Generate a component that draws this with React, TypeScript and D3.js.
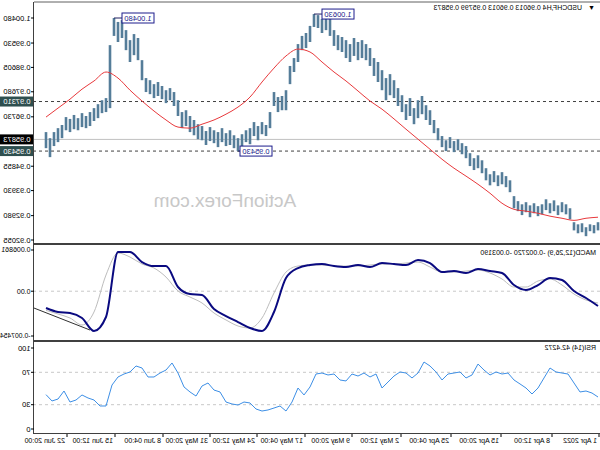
import React from 'react'
import * as d3 from 'd3'

// USDCHF H4 bars (sampled), high / low
const barHigh = [
  0.9273, 0.9262, 0.9265, 0.9254, 0.9269, 0.9265, 0.9273,
  0.9326, 0.9341, 0.9349, 0.9337, 0.9356, 0.9345, 0.936, 0.9341,
  0.9334, 0.9345, 0.9337, 0.9349, 0.9341, 0.9353, 0.9372,
  0.9432, 0.9448, 0.9463, 0.9451, 0.9467, 0.9455, 0.9478,
  0.9508, 0.9527, 0.9516, 0.9535,
  0.9562, 0.9573,
  0.9588, 0.9581, 0.9596, 0.9584, 0.96,
  0.963, 0.9661,
  0.9698, 0.9717, 0.9752, 0.9736, 0.9706, 0.9744, 0.9721, 0.9755,
  0.9782, 0.9812, 0.9835, 0.982,
  0.985, 0.9881, 0.9896,
  0.9934, 0.9949, 0.9964,
  0.9957, 0.9972, 0.9949, 0.9964, 0.9976,
  0.9983, 1.0002,
  1.0048, 1.0056, 1.0044, 1.0059, 1.0063,
  1.0018,
  0.9991, 0.998,
  0.9949, 0.9896,
  0.9866, 0.9774,
  0.9752, 0.9748, 0.9767,
  0.9691,
  0.9642, 0.9653,
  0.9638, 0.9653, 0.963, 0.9622, 0.9607, 0.9592,
  0.9603, 0.9622, 0.9611, 0.963, 0.9615, 0.9622, 0.9634, 0.9619, 0.9638, 0.9645, 0.9661,
  0.9676, 0.9698, 0.9691,
  0.9736,
  0.9767, 0.9782, 0.9774, 0.979,
  0.9805, 0.9797, 0.9812, 0.982,
  0.9888,
  0.9972,
  0.9987, 0.9964, 1.0002,
  1.004,
  1.0033, 1.0048,
  0.9945,
  0.9744,
  0.9736,
  0.9721, 0.9706,
  0.9691, 0.9676, 0.9687, 0.9668, 0.968,
  0.9665, 0.9672,
  0.9642, 0.963, 0.9615,
  0.9592, 0.9615,
]
const barLow = [
  0.9242, 0.9231, 0.9239, 0.922, 0.9235, 0.9231, 0.9242,
  0.9284, 0.9303, 0.9311, 0.93, 0.9315, 0.9307, 0.9319, 0.9303,
  0.9296, 0.9307, 0.9292, 0.9311, 0.93, 0.9315, 0.9326,
  0.9387, 0.9406, 0.9417, 0.941, 0.9425, 0.9413, 0.9432,
  0.9459, 0.9478, 0.9471, 0.9486,
  0.9516, 0.9531,
  0.9546, 0.9539, 0.9554, 0.9543, 0.9558,
  0.9584, 0.9611,
  0.9642, 0.9661, 0.9683, 0.9668, 0.9645, 0.9676, 0.9661, 0.9691,
  0.9714, 0.9744, 0.9755, 0.9736,
  0.9774, 0.9805, 0.9828,
  0.9866, 0.9888, 0.9896,
  0.9888, 0.9904, 0.9881, 0.9896, 0.9919,
  0.9926, 0.9942,
  0.998, 1.0002, 0.9991, 1.001, 1.0014,
  0.9957,
  0.9934, 0.9926,
  0.9881, 0.9843,
  0.9797, 0.9698,
  0.9698, 0.9691, 0.9714,
  0.963,
  0.96, 0.9607,
  0.9584, 0.96, 0.9569, 0.9577, 0.9558, 0.9543,
  0.9554, 0.9566, 0.9562, 0.9577, 0.9558, 0.9573, 0.9581, 0.9566, 0.9584, 0.9588, 0.9603,
  0.9615, 0.9638, 0.963,
  0.9676,
  0.9714, 0.9736, 0.9725, 0.974,
  0.9752, 0.9744, 0.9759, 0.9767,
  0.9812,
  0.9888,
  0.9907, 0.9881, 0.9926,
  0.9972,
  0.9957, 0.998,
  0.9706,
  0.9691,
  0.9687,
  0.9668, 0.9657,
  0.9638, 0.963, 0.9634, 0.9622, 0.9626,
  0.9615, 0.9622,
  0.9592, 0.9577, 0.9562,
  0.952, 0.9554,
]

// moving average, one value every 3rd bar
const maValues = [
  0.9292, 0.9288, 0.928, 0.9288, 0.9296, 0.9307, 0.9315, 0.9322, 0.9345, 0.9383,
  0.9417, 0.9448, 0.9478, 0.9512, 0.955, 0.9588, 0.9626, 0.9665, 0.9702, 0.9733,
  0.9771, 0.9809, 0.9843, 0.9881, 0.9919, 0.993, 0.9904, 0.9858, 0.9805, 0.9748,
  0.971, 0.9683, 0.9661, 0.9645, 0.963, 0.9634, 0.9661, 0.9695, 0.9733, 0.9774,
  0.982, 0.9843, 0.9809, 0.9778, 0.974, 0.9706, 0.9672,
]

// MACD(12,26,9), one value every 3rd bar
const macdMain = [
  -0.00246, -0.00113, 0.00003, 0.00186, 0.0022, 0.00103, 0.0002, 0.00103, 0.00303, 0.00336,
  0.00369, 0.00303, 0.00336, 0.00319, 0.00469, 0.00519, 0.00436, 0.00453, 0.00469, 0.00403,
  0.00436, 0.00403, 0.00419, 0.00453, 0.00436, 0.00386, 0.0022, -0.00346, -0.00662, -0.00612,
  -0.00513, -0.00413, -0.00296, -0.00063, -0.00047, 0.0007, 0.00419, 0.00419, 0.00486, 0.00652,
  0.00652, -0.00429, -0.00662, -0.00446, -0.00363, -0.00346, -0.0028,
]
const macdSignal = [
  -0.00196, -0.00146, -0.00047, 0.00103, 0.00203, 0.0017, 0.0007, 0.0007, 0.00203, 0.00303,
  0.00353, 0.00336, 0.00319, 0.00319, 0.00403, 0.00486, 0.00469, 0.00453, 0.00453, 0.00436,
  0.00419, 0.00419, 0.00419, 0.00436, 0.00436, 0.00419, 0.00319, -0.0003, -0.00446, -0.00612,
  -0.00579, -0.00479, -0.00363, -0.00196, -0.00097, 0.00003, 0.00236, 0.00386, 0.00453, 0.00569,
  0.00636, 0.0027, -0.00346, -0.00562, -0.00446, -0.00379, -0.00319,
]
// trend line drawn on the MACD window: [bar, value]
const macdTrend = [[127, -0.00646], [141, -0.0028]]

// RSI(14), one value every 1.5 bars
const rsiValues = [
  39.5, 44.4, 46.9, 45.7, 56.8, 67.9, 69.1, 70.4, 75.3, 63.0,
  50.6, 43.2, 50.6, 55.6, 60.5, 69.1, 67.9, 70.4, 66.7, 72.8,
  80.2, 66.7, 63.0, 70.4, 69.1, 67.9, 60.5, 70.4, 77.8, 82.7,
  69.1, 63.0, 69.1, 70.4, 65.4, 58.0, 50.6, 67.9, 64.2, 69.1,
  65.4, 67.9, 59.3, 60.5, 67.9, 66.7, 69.1, 67.9, 51.9, 42.0,
  50.6, 33.3, 22.2, 28.4, 25.9, 23.5, 22.2, 24.7, 32.1, 33.3,
  29.6, 30.9, 33.3, 45.7, 48.1, 56.8, 53.1, 40.7, 45.7, 51.9,
  69.1, 81.5, 72.8, 69.1, 64.2, 64.2, 75.3, 77.8, 70.4, 67.9,
  64.2, 54.3, 28.4, 28.4, 35.8, 38.3, 42.0, 35.8, 33.3, 46.9,
  37.0, 34.6, 42.4,
]

const priceTicks = [1.0048, 0.9953, 0.98605, 0.9768, 0.9673, 0.94855, 0.9393, 0.9298, 0.92055]
const levelLines = [0.9731, 0.9543]
const lastPrice = 0.95873
const peakLabels = [
  { bar: 71, value: 1.0063, text: '1.00630', gap: 8 },
  { bar: 121, value: 1.0048, text: '1.00480', gap: 8 },
  { bar: 90, value: 0.9543, text: '0.95430', gap: 2 },
]
const timeLabels = [
  '1 Apr 2022', '8 Apr 12:00', '15 Apr 20:00', '25 Apr 04:00', '2 May 12:00', '9 May 20:00',
  '17 May 04:00', '24 May 12:00', '31 May 20:00', '8 Jun 04:00', '15 Jun 12:00', '22 Jun 20:00',
]
const timeBars = [-0.25, 11.5, 24.25, 36.75, 49.25, 61.5, 73.25, 85.25, 97, 108.75, 120.75, 132.75]

const AX = 566
const FONT = '"Liberation Sans", Arial, sans-serif'

export default function App() {
  const x = d3.scaleLinear().domain([0, 138]).range([2, 554])
  const yP = d3.scaleLinear().domain([0.92055, 1.0048]).range([240, 18])
  const yM = d3.scaleLinear().domain([-0.007454, 0.006861]).range([336, 250])
  const yR = d3.scaleLinear().domain([0, 100]).range([429, 348])

  const maLine = d3.line<number>().x((_, i) => x(i * 3)).y(d => yP(d)).curve(d3.curveMonotoneX)
  const macdLine = d3.line<number>().x((_, i) => x(i * 3)).y(d => yM(d)).curve(d3.curveMonotoneX)
  const rsiLine = d3.line<number>().x((_, i) => x(i * 1.5)).y(d => yR(d))

  const axisLabel = (y: number, t: string, key: string | number, size = 7.5) => (
    <g key={key}>
      <line x1={AX} x2={AX + 3} y1={y} y2={y} stroke="#000" />
      <text x={AX + 3.5} y={y} dy="0.35em" fontSize={size} fill="#000">{t}</text>
    </g>
  )
  const axisBox = (y: number, t: string, fill: string) => (
    <g>
      <rect x={AX + 1} y={y - 5} width={33} height={10} fill={fill} />
      <text x={AX + 3.5} y={y} dy="0.35em" fontSize={7.5} fill="#fff">{t}</text>
    </g>
  )

  return (
    <div style={{ position: 'absolute', left: 0, top: 0 }}>
      <svg width={600} height={450} style={{ display: 'block', background: '#fff' }} fontFamily={FONT}>
        <defs>
          <clipPath id="cMain"><rect x={0} y={2} width={AX} height={241} /></clipPath>
          <clipPath id="cMacd"><rect x={0} y={246} width={AX} height={93} /></clipPath>
          <clipPath id="cRsi"><rect x={0} y={343} width={AX} height={90} /></clipPath>
        </defs>
        {/* the whole chart appears mirrored left-right */}
        <g transform="translate(600,0) scale(-1,1)">
          {/* main window */}
          <text x={375} y={207} textAnchor="middle" fontSize={19} fill="#c8c8c8">ActionForex.com</text>
          <g clipPath="url(#cMain)">
            <line x1={0} x2={AX} y1={yP(lastPrice)} y2={yP(lastPrice)} stroke="#c0c0c0" />
            {levelLines.map(v => (
              <line key={v} x1={0} x2={AX} y1={yP(v)} y2={yP(v)} stroke="#404040" strokeDasharray="3,3" />
            ))}
            {barHigh.map((h, i) => (
              <line key={i} x1={x(i)} x2={x(i)} y1={yP(h)} y2={yP(barLow[i])} stroke="#557d99" strokeWidth={2.6} />
            ))}
            <path d={maLine(maValues) || ''} fill="none" stroke="#e8393c" strokeWidth={1} />
          </g>
          {peakLabels.map(p => {
            const px = x(p.bar)
            const py = yP(p.value)
            const right = px - p.gap
            return (
              <g key={p.text}>
                <line x1={px} x2={right} y1={py} y2={py} stroke="#202060" />
                <rect x={right - 32} y={py - 5} width={32} height={10} fill="#fff" stroke="#1c1c8c" />
                <text x={right - 16} y={py} dy="0.35em" textAnchor="middle" fontSize={7.5} fill="#1c1c8c">{p.text}</text>
              </g>
            )
          })}
          <text x={5} y={10} fontSize={7} fill="#000">▼</text>
          <text x={18} y={10} fontSize={7} fill="#000">USDCHF,H4  0.96013 0.96013 0.95799 0.95873</text>

          {/* MACD window */}
          <g clipPath="url(#cMacd)">
            <line x1={0} x2={AX} y1={yM(0)} y2={yM(0)} stroke="#c8c8c8" strokeDasharray="3,3" />
            <path d={macdLine(macdSignal) || ''} fill="none" stroke="#bdbdbd" strokeWidth={1} />
            <path d={macdLine(macdMain) || ''} fill="none" stroke="#0a0a80" strokeWidth={2} />
            <line x1={x(macdTrend[0][0])} x2={x(macdTrend[1][0])} y1={yM(macdTrend[0][1])} y2={yM(macdTrend[1][1])} stroke="#303030" />
          </g>
          <text x={4} y={255} fontSize={7} fill="#000">MACD(12,26,9) -0.002720 -0.003190</text>

          {/* RSI window */}
          <g clipPath="url(#cRsi)">
            {[70, 30].map(v => (
              <line key={v} x1={0} x2={AX} y1={yR(v)} y2={yR(v)} stroke="#c8c8c8" strokeDasharray="3,3" />
            ))}
            <path d={rsiLine(rsiValues) || ''} fill="none" stroke="#3d8fe6" strokeWidth={1} />
          </g>
          <text x={4} y={350} fontSize={7} fill="#000">RSI(14) 42.4272</text>

          {/* frames */}
          <line x1={0} x2={AX} y1={2} y2={2} stroke="#606060" />
          <line x1={0} x2={AX} y1={244} y2={244} stroke="#404040" strokeWidth={2} />
          <line x1={0} x2={AX} y1={341} y2={341} stroke="#404040" strokeWidth={2} />
          <line x1={0} x2={AX} y1={433.5} y2={433.5} stroke="#404040" />
          <line x1={AX + 0.5} x2={AX + 0.5} y1={2} y2={434} stroke="#404040" />

          {/* price axis */}
          {priceTicks.map(v => axisLabel(yP(v), v.toFixed(5), v))}
          {axisBox(yP(0.9731), '0.97310', '#2f4f4f')}
          {axisBox(yP(0.9543), '0.95430', '#2f4f4f')}
          {axisBox(yP(lastPrice), '0.95873', '#000')}

          {/* MACD axis */}
          {axisLabel(yM(0.006861), '0.006861', 'm1', 7)}
          {axisLabel(yM(0), '0.00', 'm2', 7)}
          {axisLabel(yM(-0.007454), '-0.007454', 'm3', 6.8)}

          {/* RSI axis */}
          {[100, 70, 30, 0].map(v => axisLabel(yR(v), String(v), 'r' + v))}

          {/* time axis */}
          {timeLabels.map((t, i) => {
            const tx = x(timeBars[i])
            return (
              <g key={t}>
                <line x1={tx} x2={tx} y1={434} y2={437} stroke="#000" />
                <text x={tx + 2} y={443} fontSize={7} fill="#000">{t}</text>
              </g>
            )
          })}
        </g>
      </svg>
    </div>
  )
}
